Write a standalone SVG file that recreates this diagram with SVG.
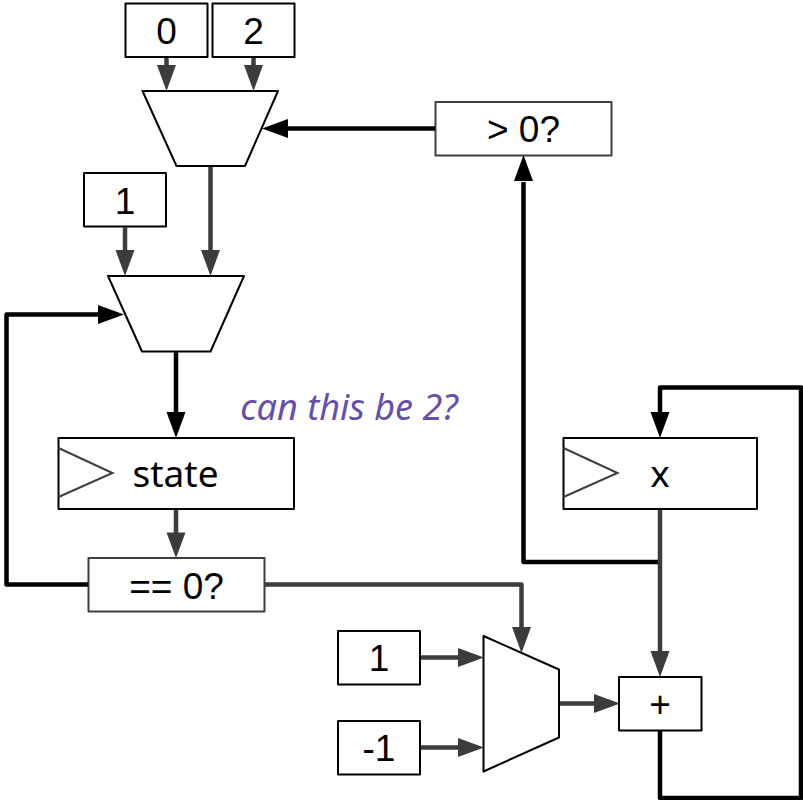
<svg xmlns="http://www.w3.org/2000/svg" width="803" height="800" viewBox="0 0 803 800">
<style>
.b{fill:#fff;stroke:#000;stroke-width:2;stroke-linejoin:round}
.g{stroke:#3f3f3f}
.t{font-family:"Liberation Sans",Arial,sans-serif;font-size:37px;fill:#000;text-anchor:middle}
.u{font-family:"Noto Sans","Open Sans",sans-serif;font-size:37px;fill:#000;text-anchor:middle}
.c{fill:none;stroke-width:4.500;stroke-linejoin:round}
.d{stroke:#3c3c3c}
.k{stroke:#000}
.clk{fill:none;stroke:#3f3f3f;stroke-width:2}
.hd{fill:#3c3c3c}
.hk{fill:#000}
</style>
<rect width="803" height="800" fill="#fff"/>
<g id="n0"><rect class="b" x="125.500" y="3.500" width="82" height="53.500"/><text class="t" x="166.500" y="44">0</text></g>
<g id="n2"><rect class="b" x="212.500" y="3.500" width="82" height="53.500"/><text class="t" x="253.500" y="44">2</text></g>
<g id="n1a"><rect class="b" x="84" y="173" width="82" height="53.500"/><text class="t" x="125" y="214">1</text></g>
<g id="mux1"><path class="b" d="M142.500 91H278L245 166H176.500Z"/></g>
<g id="mux2"><path class="b" d="M108 276H244L210.500 351.500H142Z"/></g>
<g id="gt0"><rect class="b g" x="435.500" y="102" width="176" height="53.500"/><text class="t" x="523.500" y="142">&gt; 0?</text></g>
<g id="state"><rect class="b" x="58.500" y="438" width="235.500" height="71"/><path class="clk" d="M58.500 448L112.500 473L58.500 497"/><text class="u" x="175.500" y="487">state</text></g>
<g id="x"><rect class="b" x="563.500" y="438" width="193.500" height="71"/><path class="clk" d="M563.500 448L617.500 473L563.500 497"/><text class="u" x="660" y="487">x</text></g>
<g id="eq0"><rect class="b g" x="88.500" y="558" width="176" height="53.500"/><text class="t" x="176.500" y="599">== 0?</text></g>
<g id="n1b"><rect class="b" x="338" y="631" width="82" height="53.500"/><text class="t" x="379" y="671">1</text></g>
<g id="nm1"><rect class="b" x="338" y="721" width="82" height="53.500"/><text class="t" x="379" y="761">-1</text></g>
<g id="mux3"><path class="b" d="M483.500 636L559 669.500V737.500L483.500 771.500Z"/></g>
<g id="plus"><rect class="b" x="619" y="677" width="82.500" height="53.500"/><text class="t" x="660" y="717">+</text></g>
<g id="note"><text x="349" y="420" font-family="'Noto Sans','Open Sans',sans-serif" font-style="italic" font-size="36px" fill="#674ea7" text-anchor="middle">can this be 2?</text></g>
<g id="connectors">
<path class="c d" d="M166.500 58V66"/><path class="hd" d="M157 65H176L166.500 91Z"/>
<path class="c d" d="M253.500 58V66"/><path class="hd" d="M244 65H263L253.500 91Z"/>
<path class="c d" d="M125 227V251"/><path class="hd" d="M115.500 250H134.500L125 276Z"/>
<path class="c d" d="M210.500 167V251"/><path class="hd" d="M201 250H220L210.500 276Z"/>
<path class="c k" d="M435 128.500H287"/><path class="hk" d="M288 119V138L262 128.500Z"/>
<path class="c k" d="M176 352V414"/><path class="hk" d="M166.500 412H185.500L176 438Z"/>
<path class="c d" d="M176 510V534"/><path class="hd" d="M166.500 532.500H185.500L176 558Z"/>
<path class="c k" d="M88 584.500H6.500V314.500H100"/><path class="hk" d="M98 305V324L124 314.500Z"/>
<path class="c d" d="M265 584.500H521.500V630"/><path class="hd" d="M512 627H531L521.500 653Z"/>
<path class="c k" d="M660 562H523.500V182"/><path class="hk" d="M514 181H533L523.500 155Z"/>
<path class="c d" d="M660 510V652"/><path class="hd" d="M650.500 651H669.500L660 677Z"/>
<path class="c k" d="M660 731V798H801V387.500H660V413"/><path class="hk" d="M650.500 412H669.500L660 438Z"/>
<path class="c d" d="M421 657.500H460"/><path class="hd" d="M458 648V667L484 657.500Z"/>
<path class="c d" d="M421 747.500H460"/><path class="hd" d="M458 738V757L484 747.500Z"/>
<path class="c d" d="M560 703.500H596"/><path class="hd" d="M594 694V713L620 703.500Z"/>
</g>
</svg>
